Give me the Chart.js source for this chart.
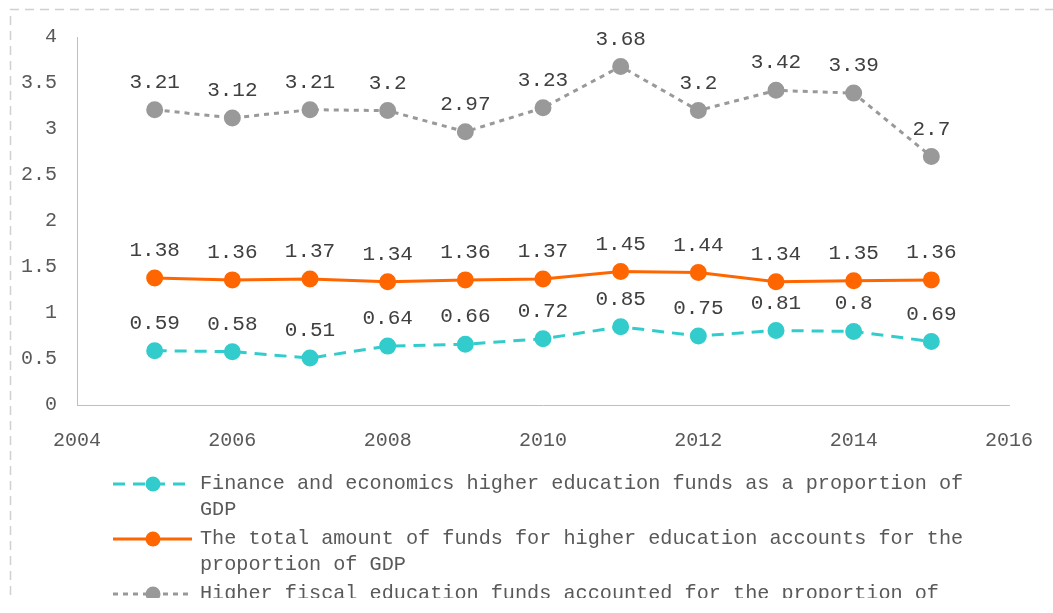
<!DOCTYPE html>
<html>
<head>
<meta charset="utf-8">
<script src="https://cdn.jsdelivr.net/npm/chart.js@4/dist/chart.umd.min.js"></script>
<style>
  html, body { margin: 0; padding: 0; background: #fff; }
  #wrap { position: relative; width: 1053px; height: 598px; }
</style>
</head>
<body>
<div id="wrap"><canvas id="chart"></canvas></div>
<script>
// Higher education funding as share of GDP, 2005-2015

const years = [2005, 2006, 2007, 2008, 2009, 2010, 2011, 2012, 2013, 2014, 2015];
const financeShare = [0.59, 0.58, 0.51, 0.64, 0.66, 0.72, 0.85, 0.75, 0.81, 0.8, 0.69];
const totalShare = [1.38, 1.36, 1.37, 1.34, 1.36, 1.37, 1.45, 1.44, 1.34, 1.35, 1.36];
const fiscalShare = [3.21, 3.12, 3.21, 3.2, 2.97, 3.23, 3.68, 3.2, 3.42, 3.39, 2.7];

const seriesNames = [
  'Finance and economics higher education funds as a proportion of GDP',
  'The total amount of funds for higher education accounts for the proportion of GDP',
  'Higher fiscal education funds accounted for the proportion of GDP',
];

const TEAL = '#33cccc';
const ORANGE = '#ff6600';
const GREY = '#999999';
const FONT = '"Liberation Mono", "DejaVu Sans Mono", monospace';

const toPoints = (vals) => vals.map((v, i) => ({ x: years[i], y: v }));

// value labels above every point
const valueLabels = {
  id: 'valueLabels',
  afterDatasetsDraw(chart) {
    const ctx = chart.ctx;
    ctx.save();
    ctx.font = '21px ' + FONT;
    ctx.fillStyle = '#404040';
    ctx.textAlign = 'center';
    ctx.textBaseline = 'bottom';
    chart.data.datasets.forEach((ds, i) => {
      chart.getDatasetMeta(i).data.forEach((pt, j) => {
        ctx.fillText(String(ds.data[j].y), pt.x, pt.y - 17);
      });
    });
    ctx.restore();
  },
};

function wrapText(ctx, text, maxW) {
  const words = text.split(' ');
  const lines = [];
  let cur = '';
  for (const w of words) {
    const test = cur ? cur + ' ' + w : w;
    if (ctx.measureText(test).width > maxW && cur) {
      lines.push(cur);
      cur = w;
    } else {
      cur = test;
    }
  }
  if (cur) lines.push(cur);
  return lines;
}

// dashed frame + wrapped legend at the bottom
const frameAndLegend = {
  id: 'frameAndLegend',
  afterDraw(chart) {
    const ctx = chart.ctx;
    ctx.save();
    ctx.strokeStyle = '#d0d0d0';
    ctx.lineWidth = 1.5;
    ctx.setLineDash([9, 6]);
    ctx.beginPath();
    ctx.moveTo(10.5, 700);
    ctx.lineTo(10.5, 9.5);
    ctx.lineTo(1060, 9.5);
    ctx.stroke();
    ctx.restore();

    ctx.save();
    ctx.font = '20.2px ' + FONT;
    ctx.textBaseline = 'middle';
    let y = 484;
    chart.data.datasets.forEach((ds) => {
      ctx.save();
      ctx.strokeStyle = ds.borderColor;
      ctx.lineWidth = ds.borderWidth;
      ctx.setLineDash(ds.borderDash || []);
      ctx.beginPath();
      ctx.moveTo(113, y);
      ctx.lineTo(192, y);
      ctx.stroke();
      ctx.setLineDash([]);
      ctx.fillStyle = ds.pointBackgroundColor;
      ctx.beginPath();
      ctx.arc(153, y, 7.5, 0, Math.PI * 2);
      ctx.fill();
      ctx.restore();
      ctx.fillStyle = '#595959';
      const lines = wrapText(ctx, ds.label, 780);
      lines.forEach((ln, k) => ctx.fillText(ln, 200, y + k * 26));
      y += lines.length * 26 + 3;
    });
    ctx.restore();
  },
};

function makeSet(label, vals, color, dash) {
  return {
    label,
    data: toPoints(vals),
    borderColor: color,
    backgroundColor: color,
    pointBackgroundColor: color,
    pointBorderColor: color,
    pointRadius: 7,
    pointHoverRadius: 7,
    borderWidth: 3,
    borderDash: dash,
    tension: 0,
  };
}

new Chart(document.getElementById('chart'), {
  type: 'line',
  data: {
    datasets: [
      makeSet(seriesNames[0], financeShare, TEAL, [12, 8]),
      makeSet(seriesNames[1], totalShare, ORANGE, []),
      makeSet(seriesNames[2], fiscalShare, GREY, [5, 5]),
    ],
  },
  options: {
    responsive: true,
    maintainAspectRatio: false,
    animation: false,
    layout: { padding: { left: 0, right: 44, top: 37, bottom: 0 } },
    plugins: { legend: { display: false }, tooltip: { enabled: false } },
    scales: {
      x: {
        type: 'linear',
        min: 2004,
        max: 2016,
        grid: { display: false, drawTicks: false },
        border: { display: true, color: '#bfbfbf', width: 1 },
        ticks: {
          stepSize: 2,
          padding: 24,
          color: '#595959',
          font: { family: FONT, size: 20 },
          callback: (v) => String(v),
          maxRotation: 0,
        },
        afterFit: (s) => {
          s.height = 193;
          s.paddingLeft = 0;
          s.paddingRight = 0;
        },
      },
      y: {
        min: 0,
        max: 4,
        grid: { display: false, drawTicks: false },
        border: { display: true, color: '#bfbfbf', width: 1 },
        ticks: {
          stepSize: 0.5,
          padding: 20,
          color: '#595959',
          font: { family: FONT, size: 20 },
          callback: (v) => String(v),
        },
        afterFit: (s) => { s.width = 77; },
      },
    },
  },
  plugins: [valueLabels, frameAndLegend],
});
</script>
</body>
</html>
